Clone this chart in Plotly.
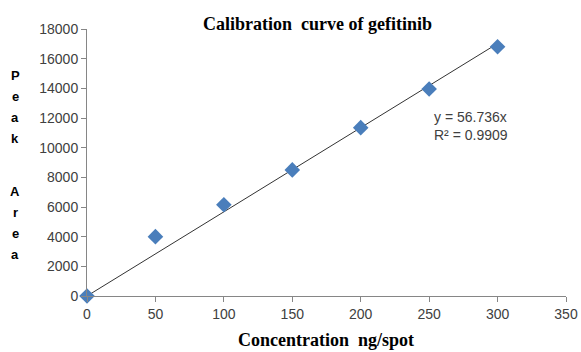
import plotly.graph_objects as go

concentration = [0, 50, 100, 150, 200, 250, 300]
peak_area = [0, 4000, 6150, 8500, 11350, 13950, 16800]
slope = 56.736
r_squared = 0.9909
x_ticks = [0, 50, 100, 150, 200, 250, 300, 350]
y_ticks = [0, 2000, 4000, 6000, 8000, 10000, 12000, 14000, 16000, 18000]
y_tick_labels = [str(v) for v in y_ticks]
y_title_letters = ["P", "e", "a", "k", "A", "r", "e", "a"]

trend_x = [0, 300]
trend_y = [slope * v for v in trend_x]

fig = go.Figure()
fig.add_trace(go.Scatter(x=trend_x, y=trend_y, mode="lines",
                         line=dict(color="#333333", width=1), showlegend=False,
                         hoverinfo="skip"))
fig.add_trace(go.Scatter(x=concentration, y=peak_area, mode="markers",
                         marker=dict(symbol="diamond", size=12, color="#4a7ebb"),
                         showlegend=False, cliponaxis=False))

tick_font = dict(family="Liberation Sans, Arial, sans-serif", size=14, color="#404040")
fig.update_xaxes(range=[0, 350], tickvals=x_ticks, ticks="outside", ticklen=5,
                 tickcolor="#868686", showline=True, linecolor="#868686", linewidth=1,
                 showgrid=False, zeroline=False, tickfont=tick_font, fixedrange=True,
                 automargin=False)
fig.update_yaxes(range=[0, 18000], tickvals=y_ticks, ticktext=y_tick_labels,
                 ticks="outside", ticklen=5,
                 tickcolor="#868686", showline=True, linecolor="#868686", linewidth=1,
                 showgrid=False, zeroline=False, tickfont=tick_font, fixedrange=True,
                 automargin=False)

serif = "Liberation Serif, Times New Roman, serif"
annotations = [
    dict(text="<b>Calibration  curve of gefitinib</b>", xref="paper", yref="paper",
         x=(317 - 87) / 479, y=1.0, yshift=5, xanchor="center", yanchor="middle",
         showarrow=False, font=dict(family=serif, size=18, color="#000000")),
    dict(text="<b>Concentration  ng/spot</b>", xref="paper", yref="paper",
         x=(326 - 87) / 479, y=0, yshift=-44, xanchor="center", yanchor="middle",
         showarrow=False, font=dict(family=serif, size=18, color="#000000")),
    dict(text="y = 56.736x<br>R² = 0.9909", xref="paper", yref="paper",
         x=(432 - 87) / 479, y=(296 - 107) / 267, xanchor="left", yanchor="top",
         showarrow=False, align="left",
         font=dict(family="Liberation Sans, Arial, sans-serif", size=14, color="#404040")),
]
# vertical stacked y-axis title letters (pixel rows from the top of the figure)
letter_rows = [75, 96, 117, 138, 191, 212, 233, 254]
for ch, row in zip(y_title_letters, letter_rows):
    annotations.append(dict(text="<b>%s</b>" % ch, xref="paper", yref="paper",
                            x=0, xshift=-72, y=1, yshift=-(row - 29),
                            xanchor="center", yanchor="middle", showarrow=False,
                            font=dict(family="Liberation Sans, Arial, sans-serif", size=13,
                                      color="#000000")))

fig.update_layout(width=581, height=352, margin=dict(l=87, r=15, t=29, b=56),
                  paper_bgcolor="white", plot_bgcolor="white", annotations=annotations)
fig.write_html("out.html", config={"displayModeBar": False},
               post_script="document.body.style.margin='0';document.body.style.padding='0';")
